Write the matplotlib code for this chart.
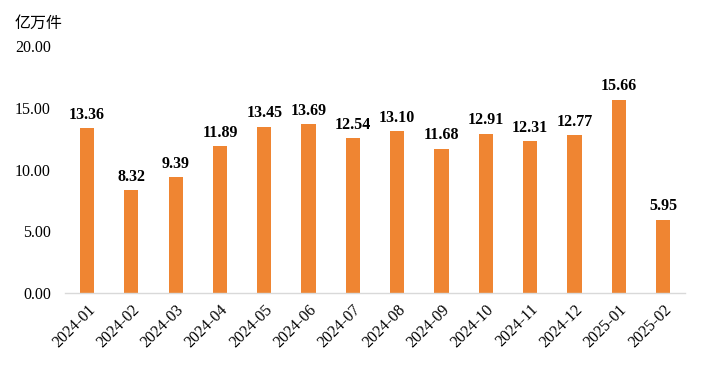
import matplotlib
matplotlib.use('Agg')
import matplotlib.pyplot as plt

# data
months = ['2024-01', '2024-02', '2024-03', '2024-04', '2024-05', '2024-06', '2024-07',
          '2024-08', '2024-09', '2024-10', '2024-11', '2024-12', '2025-01', '2025-02']
values = [13.36, 8.32, 9.39, 11.89, 13.45, 13.69, 12.54,
          13.10, 11.68, 12.91, 12.31, 12.77, 15.66, 5.95]
yticks = [0, 5, 10, 15, 20]

serif = ['Liberation Serif', 'DejaVu Serif']

fig = plt.figure(figsize=(7.05, 3.72), dpi=100)
ax = fig.add_axes([0.092, 0.212, 0.88, 0.664])

x = list(range(len(months)))
ax.bar(x, values, width=0.32, color='#EF8532')

for xi, v in zip(x, values):
    ax.text(xi, v + 0.45, '%.2f' % v, ha='center', va='bottom',
            fontsize=11.5, fontweight='bold', family=serif)

ax.set_xlim(-0.5, len(months) - 0.5)
ax.set_ylim(0, 20)
ax.set_yticks(yticks)
ax.set_yticklabels(['%.2f' % t for t in yticks], family=serif, fontsize=11.5)
ax.set_xticks(x)
ax.set_xticklabels(months, rotation=45, ha='right', rotation_mode='anchor',
                   family=serif, fontsize=11.5)
ax.tick_params(axis='both', length=0)
ax.tick_params(axis='y', pad=10)
ax.tick_params(axis='x', pad=6)

for s in ['top', 'right', 'left']:
    ax.spines[s].set_visible(False)
ax.spines['bottom'].set_color('#d9d9d9')
ax.spines['bottom'].set_linewidth(1)

fig.text(0.02, 0.96, '亿万件', family=['Noto Sans CJK SC', 'DejaVu Sans'],
         fontsize=11.5, va='top', ha='left')

fig.savefig('out.png', dpi=100)
